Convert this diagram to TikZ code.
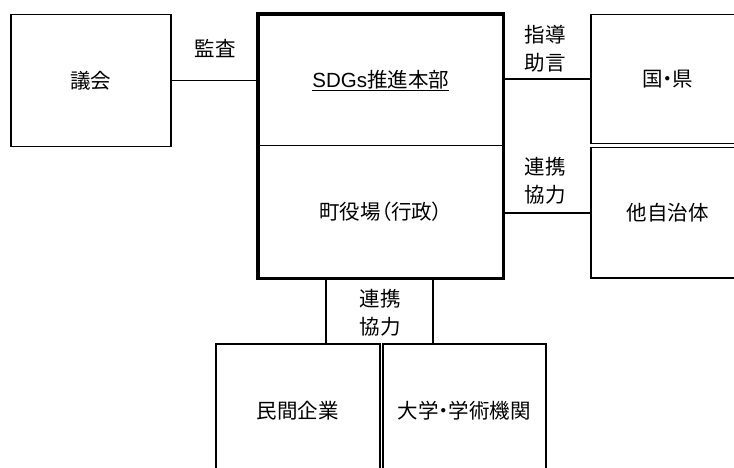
\documentclass[tikz,border=0pt]{standalone}
\usepackage{fontspec}
\setmainfont{Noto Sans CJK JP}[RawFeature=+palt]
\newfontfamily\latsans{Liberation Sans}
\begin{document}
\begin{tikzpicture}[x=1pt,y=-1pt,
  box/.style={draw,line width=1.5pt,inner sep=0pt,anchor=north west,font=\fontsize{20.5}{28}\selectfont},
  lbl/.style={align=center,inner sep=0pt,font=\fontsize{20.5}{28}\selectfont},
  conn/.style={line width=1.5pt}]
\useasboundingbox (0,0) rectangle (734,468);
\clip (0,0) rectangle (734,468);
\node[box,minimum width=160pt,minimum height=132pt] (gikai) at (10,14) {議会};
\node[box,minimum width=244pt,minimum height=131pt] (hq) at (258,14) {\underline{{\latsans SDGs}推進本部}};
\node[box,minimum width=244pt,minimum height=132pt] (town) at (258,145) {町役場（行政）};
\draw[line width=3.5pt] (hq.north west) rectangle (town.south east);
\node[box,minimum width=154pt,minimum height=129pt] (kuni) at (590,14) {国・県};
\node[box,minimum width=154pt,minimum height=130pt] (other) at (590,147) {他自治体};
\node[box,minimum width=164pt,minimum height=134pt] (corp) at (215,343) {民間企業};
\node[box,minimum width=163pt,minimum height=134pt] (univ) at (382,343) {大学・学術機関};
\coordinate (b1) at (326,277);
\coordinate (b2) at (433,277);
\draw[conn] (gikai.east) -- (gikai.east -| hq.west);
\draw[conn] (kuni.west -| hq.east) -- (kuni.west);
\draw[conn] (other.west -| town.east) -- (other.west);
\draw[conn] (b1) -- (b1 |- corp.north);
\draw[conn] (b2) -- (b2 |- univ.north);
\node[lbl] (l1) at (215,48) {監査};
\node[lbl] (l2) at (545,49) {指導\\助言};
\node[lbl] (l3) at (545,181) {連携\\協力};
\node[lbl] (l4) at (380,313) {連携\\協力};
\end{tikzpicture}
\end{document}
